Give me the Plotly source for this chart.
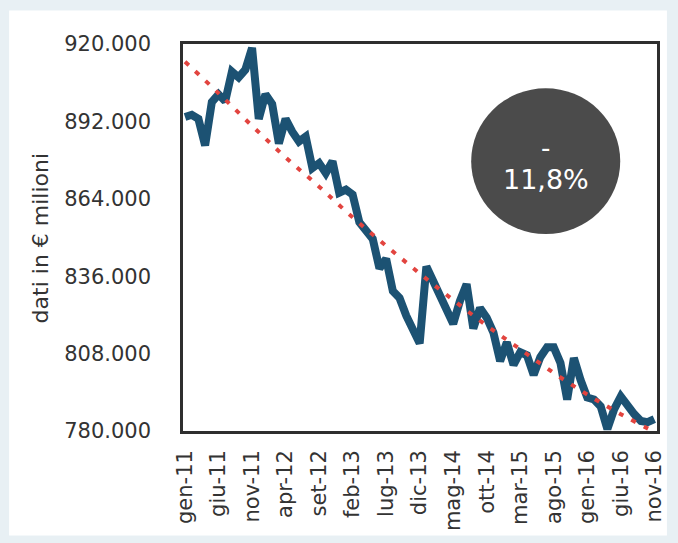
import plotly.graph_objects as go

MONTH_ABBR = ["gen", "feb", "mar", "apr", "mag", "giu", "lug", "ago", "set", "ott", "nov", "dic"]
months = [f"{MONTH_ABBR[m]}-{y}" for y in range(11, 17) for m in range(12)][:71]  # gen-11 .. nov-16

values = [
    893600, 894400, 892900, 883300, 899000, 901800, 899300, 910000, 907900, 910700,
    918600, 892900, 901800, 898300, 884000, 892900, 888300, 884700, 886500, 875100,
    876900, 873300, 877600, 866200, 867300, 865500, 855500, 853000, 849500, 838800,
    842300, 830600, 828100, 821700, 816300, 811700, 839500, 834200, 828800, 822400,
    818800, 827000, 833100, 817100, 824500, 821000, 815600, 805300, 812100, 803900,
    808500, 807400, 800300, 806700, 810300, 810300, 804600, 791400, 806400, 798500,
    792100, 791400, 788900, 780700, 787800, 792500, 788900, 786100, 783600, 783200,
    784300,
]

trend_months = ["gen-11", "giu-11", "nov-11", "apr-12", "set-12", "feb-13", "lug-13", "dic-13",
                "mag-14", "ott-14", "mar-15", "ago-15", "gen-16", "giu-16", "nov-16"]
trend_values = [913600, 902200, 890400, 879000, 868400, 857300, 847000, 837000,
                827400, 818100, 809600, 801000, 793200, 786100, 779700]

tick_labels = trend_months
y_ticks = [780000, 808000, 836000, 864000, 892000, 920000]
badge_sign = "-"
badge_value = "11,8%"

FONT = "DejaVu Sans, Verdana, sans-serif"
TXT = "#333333"

# plot area in pixels: left 183, right 660, top 44, bottom 437
L, R, T, B = 183, 660, 44, 437
W, H = 678, 543
px = lambda x: (x - L) / (R - L)
py = lambda y: (B - y) / (B - T)

fig = go.Figure()
fig.add_trace(go.Scatter(
    x=months, y=values, mode="lines",
    line=dict(color="#1c5273", width=8, shape="linear"),
    showlegend=False, hoverinfo="skip",
))
fig.add_trace(go.Scatter(
    x=trend_months, y=trend_values, mode="lines",
    line=dict(color="#e2443f", width=4, dash="5px,9px", shape="spline"),
    showlegend=False, hoverinfo="skip",
))

fig.update_layout(
    width=W, height=H,
    margin=dict(l=L, r=W - R, t=T, b=H - B, pad=0),
    paper_bgcolor="#e8f0f4",
    plot_bgcolor="white",
    separators=",.",
    font=dict(family=FONT, color=TXT, size=16),
    xaxis=dict(
        type="category",
        categoryorder="array", categoryarray=months,
        range=[-0.3, 70.4],
        tickmode="array", tickvals=tick_labels, ticktext=tick_labels,
        tickangle=-90,
        tickfont=dict(size=21, color=TXT, family=FONT),
        ticks="", ticklabelstandoff=8,
        showgrid=False, zeroline=False,
        showline=True, linecolor="#2f2f2f", linewidth=2.5, mirror=True,
    ),
    yaxis=dict(
        range=[780000, 920000],
        tickmode="array", tickvals=y_ticks,
        tickformat=",d",
        tickfont=dict(size=21, color=TXT, family=FONT),
        ticks="", ticklabelstandoff=25,
        showgrid=False, zeroline=False,
        showline=True, linecolor="#2f2f2f", linewidth=2.5, mirror=True,
    ),
    shapes=[
        dict(type="rect", xref="paper", yref="paper", layer="below",
             x0=px(8), x1=px(670), y0=py(543), y1=py(10),
             fillcolor="white", line=dict(width=0)),
        dict(type="circle", xref="paper", yref="paper", layer="above",
             x0=px(473), x1=px(623), y0=py(237), y1=py(89),
             fillcolor="#4b4b4b", line=dict(width=0)),
    ],
    annotations=[
        dict(text="dati in € milioni", xref="paper", yref="paper",
             x=px(40), y=0.5, textangle=-90, showarrow=False,
             font=dict(size=22, color=TXT, family=FONT),
             xanchor="center", yanchor="middle"),
        dict(text=badge_sign, xref="paper", yref="paper",
             x=px(548), y=py(150), showarrow=False,
             font=dict(size=26, color="white", family=FONT),
             xanchor="center", yanchor="middle"),
        dict(text=badge_value, xref="paper", yref="paper",
             x=px(548), y=py(182), showarrow=False,
             font=dict(size=27, color="white", family=FONT),
             xanchor="center", yanchor="middle"),
    ],
)

fig.write_html("out.html")
